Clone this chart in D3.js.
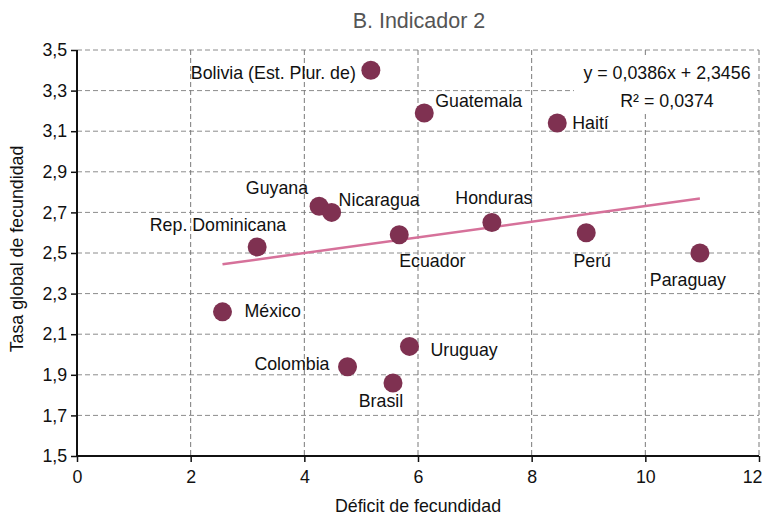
<!DOCTYPE html>
<html>
<head>
<meta charset="utf-8">
<script src="https://cdn.jsdelivr.net/npm/d3@7"></script>
<style>
  body { margin: 0; background: #fff; }
  svg { display: block; font-family: "Liberation Sans", Arial, sans-serif; }
</style>
</head>
<body>
<div class="wrapper"></div>
<script>
// Data
var countries = ["Bolivia (Est. Plur. de)", "Guatemala", "Haití", "Guyana", "Nicaragua",
  "Rep. Dominicana", "Ecuador", "Honduras", "Perú", "Paraguay", "México", "Uruguay",
  "Colombia", "Brasil"];
var deficit = [5.17, 6.11, 8.45, 4.26, 4.48, 3.17, 5.67, 7.30, 8.96, 10.96, 2.56, 5.85, 4.76, 5.56];
var tgf = [3.40, 3.19, 3.14, 2.73, 2.70, 2.53, 2.59, 2.65, 2.60, 2.50, 2.21, 2.04, 1.94, 1.86];
var xTicks = [0, 2, 4, 6, 8, 10, 12];
var yTicks = [1.5, 1.7, 1.9, 2.1, 2.3, 2.5, 2.7, 2.9, 3.1, 3.3, 3.5];
var slope = 0.0386, intercept = 2.3456;
var equationText = "y = 0,0386x + 2,3456";
var r2Text = "R² = 0,0374";

// Label placement (dx, dy in px from the point, text anchor)
var labelPos = {
  "Bolivia (Est. Plur. de)": [-15, 2, "end"],
  "Guatemala": [11, -12, "start"],
  "Haití": [15, 0, "start"],
  "Guyana": [-11, -19, "end"],
  "Nicaragua": [7, -13, "start"],
  "Rep. Dominicana": [29, -22, "end"],
  "Ecuador": [0, 26, "start"],
  "Honduras": [2, -25, "middle"],
  "Perú": [6, 28, "middle"],
  "Paraguay": [-12, 27, "middle"],
  "México": [22, -1, "start"],
  "Uruguay": [21, 3, "start"],
  "Colombia": [-18, -3, "end"],
  "Brasil": [-12, 18, "middle"]
};

var data = countries.map(function(c, i) { return {label: c, x: deficit[i], y: tgf[i]}; });

var width = 763, height = 515;
var plot = {left: 77, right: 759, top: 50, bottom: 456};
var fs = "17.8px";

var svg = d3.select(".wrapper").append("svg")
  .attr("width", width)
  .attr("height", height);

var x = d3.scaleLinear().domain([0, 12]).range([plot.left, plot.right]);
var y = d3.scaleLinear().domain([1.5, 3.5]).range([plot.bottom, plot.top]);
var fmt = function(d) { return d3.format(".1f")(d).replace(".", ","); };

//Grid
svg.append("g").selectAll("line")
  .data(yTicks.slice(1))
  .enter().append("line")
  .attr("x1", plot.left).attr("x2", plot.right)
  .attr("y1", function(d) { return y(d); })
  .attr("y2", function(d) { return y(d); })
  .attr("stroke", "#8c8c8c")
  .attr("stroke-dasharray", "5,3");
svg.append("g").selectAll("line")
  .data(xTicks.slice(1))
  .enter().append("line")
  .attr("y1", plot.top).attr("y2", plot.bottom)
  .attr("x1", function(d) { return x(d); })
  .attr("x2", function(d) { return x(d); })
  .attr("stroke", "#7a7a7a")
  .attr("stroke-dasharray", "5,3");

//Equation box (white background hides grid)
svg.append("rect")
  .attr("x", 574).attr("y", 57)
  .attr("width", 183).attr("height", 56)
  .attr("fill", "#fff");
svg.append("text")
  .attr("x", 667).attr("y", 79)
  .attr("text-anchor", "middle")
  .style("font-size", fs)
  .attr("fill", "#111")
  .text(equationText);
svg.append("text")
  .attr("x", 667).attr("y", 107)
  .attr("text-anchor", "middle")
  .style("font-size", fs)
  .attr("fill", "#111")
  .text(r2Text);

//Axes
var xAxis = d3.axisBottom(x).tickValues(xTicks).tickSize(6).tickFormat(d3.format("d"));
var yAxis = d3.axisLeft(y).tickValues(yTicks).tickSize(6).tickFormat(fmt);

var gx = svg.append("g")
  .attr("transform", "translate(0," + plot.bottom + ")")
  .call(xAxis);
var gy = svg.append("g")
  .attr("transform", "translate(" + plot.left + ",0)")
  .call(yAxis);
[gx, gy].forEach(function(g) {
  g.select(".domain").attr("stroke", "#111").attr("stroke-width", 2);
  g.selectAll(".tick line").attr("stroke", "#111").attr("stroke-width", 1.5);
  g.selectAll(".tick text")
    .style("font-size", fs)
    .style("font-family", "'Liberation Sans', Arial, sans-serif")
    .attr("fill", "#111");
});
gx.select(".domain").attr("d", "M" + plot.left + ",0H" + plot.right);
gy.select(".domain").attr("d", "M0," + plot.top + "V" + plot.bottom);
gx.selectAll(".tick text").attr("dy", "1.0em");
gx.selectAll(".tick text").filter(function(d) { return d === 12; })
  .attr("text-anchor", "end").attr("x", 3);
gy.selectAll(".tick text").attr("dx", "-0.05em");

//Trend line
var xs = d3.extent(deficit);
svg.append("line")
  .attr("x1", x(xs[0])).attr("y1", y(slope * xs[0] + intercept))
  .attr("x2", x(xs[1])).attr("y2", y(slope * xs[1] + intercept))
  .attr("stroke", "#d6719a")
  .attr("stroke-width", 2.5);

//Points
svg.append("g").selectAll("circle")
  .data(data)
  .enter().append("circle")
  .attr("cx", function(d) { return x(d.x); })
  .attr("cy", function(d) { return y(d.y); })
  .attr("r", 9.5)
  .attr("fill", "#7f3151");

//Labels
svg.append("g").selectAll("text")
  .data(data)
  .enter().append("text")
  .attr("x", function(d) { return x(d.x) + labelPos[d.label][0]; })
  .attr("y", function(d) { return y(d.y) + labelPos[d.label][1]; })
  .attr("dy", ".35em")
  .attr("text-anchor", function(d) { return labelPos[d.label][2]; })
  .style("font-size", fs)
  .attr("fill", "#111")
  .text(function(d) { return d.label; });

//Titles
svg.append("text")
  .attr("x", 419).attr("y", 28)
  .attr("text-anchor", "middle")
  .style("font-size", "21.5px")
  .attr("fill", "#555")
  .text("B. Indicador 2");
svg.append("text")
  .attr("x", 418).attr("y", 512)
  .attr("text-anchor", "middle")
  .style("font-size", fs)
  .attr("fill", "#111")
  .text("Déficit de fecundidad");
svg.append("text")
  .attr("transform", "translate(23,249) rotate(-90)")
  .attr("text-anchor", "middle")
  .style("font-size", fs)
  .attr("fill", "#111")
  .text("Tasa global de fecundidad");
</script>
</body>
</html>
